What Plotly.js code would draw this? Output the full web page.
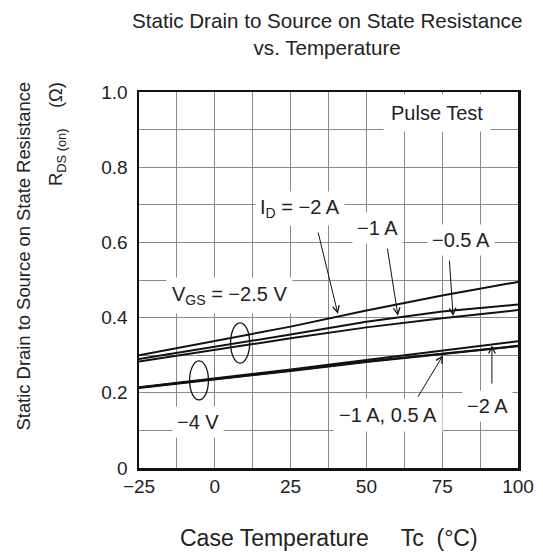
<!DOCTYPE html>
<html>
<head>
<meta charset="utf-8">
<script src="https://cdn.plot.ly/plotly-3.0.1.min.js"></script>
<style>html,body{margin:0;padding:0;background:#fff;}#chart{width:543px;height:557px;}</style>
</head>
<body>
<div id="chart"></div>
<script>
// Case temperature (°C)
const temps = [-25, 0, 25, 50, 75, 100];
// RDS(on) (Ω), VGS = -2.5 V
const vgs25_id2 = [0.300, 0.337, 0.376, 0.419, 0.459, 0.495];
const vgs25_id1 = [0.290, 0.322, 0.355, 0.389, 0.416, 0.435];
const vgs25_id05 = [0.283, 0.315, 0.345, 0.374, 0.398, 0.420];
// RDS(on) (Ω), VGS = -4 V
const vgs4_id2 = [0.215, 0.238, 0.262, 0.287, 0.312, 0.337];
const vgs4_id1 = [0.214, 0.236, 0.259, 0.283, 0.305, 0.325];
const vgs4_id05 = [0.213, 0.235, 0.258, 0.282, 0.304, 0.324];

const xTickVals = [-25, 0, 25, 50, 75, 100];
const xTickText = ['\u221225', '0', '25', '50', '75', '100'];
const yTickVals = [0, 0.2, 0.4, 0.6, 0.8, 1.0];
const yTickText = ['0', '0.2', '0.4', '0.6', '0.8', '1.0'];

const FONT = 'Liberation Sans, Arial, sans-serif';
const TXT = '#222';
const LINE = '#111';
const GRID = '#8a8a8a';

const series = [vgs25_id2, vgs25_id1, vgs25_id05, vgs4_id2, vgs4_id1, vgs4_id05];
const data = series.map(s => ({
  x: temps, y: s, type: 'scatter', mode: 'lines',
  line: {color: LINE, width: 2}, showlegend: false, hoverinfo: 'skip'
}));

function lbl(text, x, y, extra) {
  return Object.assign({
    text: text, x: x, y: y, xref: 'x', yref: 'y', showarrow: false,
    font: {family: FONT, size: 20, color: TXT}, bgcolor: '#fff', borderpad: 5,
    xanchor: 'center', yanchor: 'middle'
  }, extra || {});
}
function arr(tipX, tipY, tailX, tailY) {
  return {
    text: ' ', x: tipX, y: tipY, ax: tailX, ay: tailY, xref: 'x', yref: 'y',
    axref: 'x', ayref: 'y', showarrow: true, arrowhead: 5, arrowsize: 1.3,
    arrowwidth: 1, arrowcolor: '#111', standoff: 0
  };
}
const NB = '\u00a0';

const annotations = [
  {text: 'Static Drain to Source on State Resistance<br>vs. Temperature', xref: 'paper', yref: 'paper',
   x: 0.497, y: 1.226, xanchor: 'center', yanchor: 'top', showarrow: false,
   font: {family: FONT, size: 20.6, color: TXT}},
  lbl('Pulse Test', 73.3, 0.944, {borderpad: 7}),
  lbl('I<sub>D</sub> = \u22122 A', 28.1, 0.691, {borderpad: 4}),
  lbl('\u22121 A', 53.5, 0.638, {borderpad: 4}),
  lbl('\u22120.5 A', 81.2, 0.606, {borderpad: 4}),
  lbl('V<sub>GS</sub> = \u22122.5 V', 5.0, 0.46, {borderpad: 5}),
  lbl('\u22124 V', -5.7, 0.123, {borderpad: 4}),
  lbl('\u22121 A, 0.5 A', 57.2, 0.141, {borderpad: 5}),
  lbl('\u22122 A', 89.9, 0.165, {borderpad: 4}),
  arr(40.6, 0.410, 33.4, 0.649),
  arr(60.4, 0.405, 56.5, 0.606),
  arr(78.6, 0.404, 77.2, 0.574),
  arr(75.3, 0.300, 66.0, 0.176),
  arr(91.4, 0.326, 91.4, 0.202),
  // axis titles
  {text: 'Case Temperature' + NB.repeat(5) + 'Tc' + NB.repeat(2) + '(\u00b0C)', xref: 'paper', yref: 'paper',
   x: 0.5, y: -0.186, xanchor: 'center', yanchor: 'middle', showarrow: false,
   font: {family: FONT, size: 23, color: TXT}},
  {text: 'Static Drain to Source on State Resistance', xref: 'paper', yref: 'paper',
   x: -0.306, y: 1.032, xanchor: 'center', yanchor: 'top', textangle: -90, showarrow: false,
   font: {family: FONT, size: 18.4, color: TXT}},
  {text: 'R<sub>DS (on)</sub>' + NB.repeat(4) + '(\u03a9)', xref: 'paper', yref: 'paper',
   x: -0.216, y: 1.032, xanchor: 'center', yanchor: 'top', textangle: -90, showarrow: false,
   font: {family: FONT, size: 18.4, color: TXT}}
];

const shapes = [
  {type: 'circle', xref: 'x', yref: 'y', x0: 5.2, x1: 11.5, y0: 0.279, y1: 0.386,
   line: {color: '#111', width: 1.3}},
  {type: 'circle', xref: 'x', yref: 'y', x0: -8.3, x1: -2.1, y0: 0.181, y1: 0.285,
   line: {color: '#111', width: 1.3}}
];

const layout = {
  width: 543, height: 557,
  margin: {l: 139, r: 25, t: 92, b: 89, pad: 0},
  paper_bgcolor: '#fff', plot_bgcolor: '#fff',
  font: {family: FONT, color: TXT},
  xaxis: {
    range: [-25, 100], tickmode: 'array', tickvals: xTickVals, ticktext: xTickText,
    showgrid: true, gridcolor: GRID, gridwidth: 1, zeroline: false,
    showline: true, mirror: true, linecolor: '#111', linewidth: 2.5,
    ticks: '', ticklabelstandoff: 0,
    tickfont: {family: FONT, size: 19, color: TXT},
    minor: {dtick: 12.5, tick0: -25, showgrid: true, gridcolor: GRID, gridwidth: 1}
  },
  yaxis: {
    range: [0, 1], tickmode: 'array', tickvals: yTickVals, ticktext: yTickText,
    showgrid: true, gridcolor: GRID, gridwidth: 1, zeroline: false,
    showline: true, mirror: true, linecolor: '#111', linewidth: 2.5,
    ticks: '', ticklabelstandoff: 5,
    tickfont: {family: FONT, size: 19, color: TXT},
    minor: {dtick: 0.1, tick0: 0, showgrid: true, gridcolor: GRID, gridwidth: 1}
  },
  annotations: annotations,
  shapes: shapes,
  showlegend: false
};

Plotly.newPlot('chart', data, layout, {displayModeBar: false, staticPlot: true});
</script>
</body>
</html>
